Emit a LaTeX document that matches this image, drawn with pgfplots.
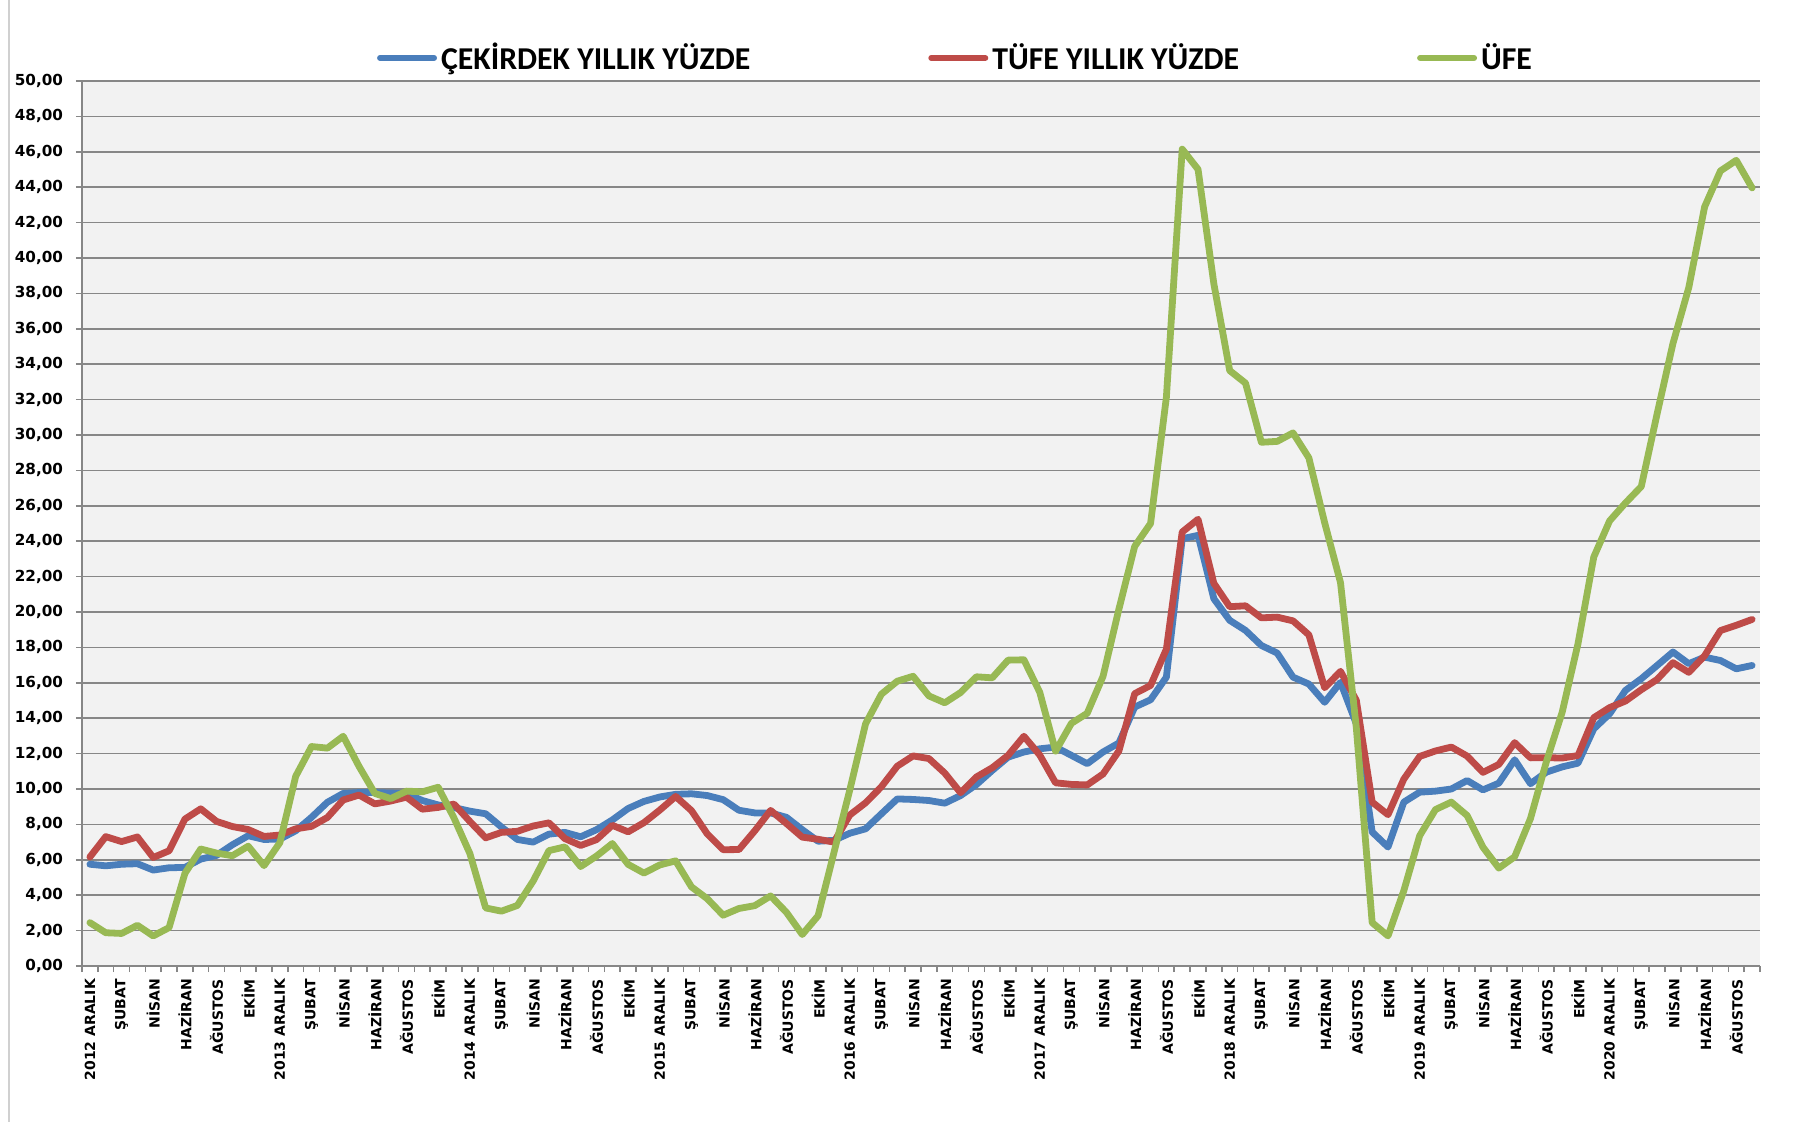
\documentclass[border=0pt]{standalone}
\usepackage{fontspec}
\usepackage{pgfplots}
\usepackage{pgfplotstable}
\pgfplotsset{compat=1.18}
\newfontfamily\tickfont{DejaVu Sans}
\newfontfamily\legfont{Carlito}
\definecolor{cblue}{HTML}{4A7EBB}
\definecolor{cred}{HTML}{BE4B48}
\definecolor{cgreen}{HTML}{98B954}
\definecolor{plotbg}{HTML}{F2F2F2}
\definecolor{gridc}{HTML}{878787}
\definecolor{framec}{HTML}{D0D0D0}

\pgfplotstableread{
i core cpi ppi
0 5.75 6.16 2.45
1 5.66 7.31 1.88
2 5.75 7.03 1.84
3 5.78 7.29 2.30
4 5.42 6.13 1.70
5 5.55 6.51 2.17
6 5.57 8.30 5.23
7 6.04 8.88 6.61
8 6.25 8.17 6.38
9 6.85 7.88 6.23
10 7.36 7.71 6.77
11 7.15 7.32 5.67
12 7.17 7.40 6.97
13 7.64 7.75 10.72
14 8.40 7.89 12.40
15 9.25 8.39 12.31
16 9.75 9.38 12.98
17 9.80 9.66 11.28
18 9.80 9.16 9.75
19 9.77 9.32 9.46
20 9.75 9.54 9.88
21 9.35 8.86 9.84
22 9.10 8.96 10.10
23 8.95 9.15 8.36
24 8.75 8.17 6.36
25 8.60 7.24 3.28
26 7.85 7.55 3.10
27 7.15 7.61 3.42
28 7.00 7.91 4.80
29 7.45 8.09 6.52
30 7.55 7.20 6.73
31 7.30 6.81 5.62
32 7.70 7.14 6.21
33 8.25 7.95 6.92
34 8.90 7.58 5.74
35 9.30 8.10 5.25
36 9.55 8.81 5.71
37 9.70 9.58 5.94
38 9.73 8.78 4.47
39 9.63 7.46 3.80
40 9.40 6.57 2.87
41 8.80 6.58 3.25
42 8.65 7.64 3.41
43 8.65 8.79 3.96
44 8.40 8.05 3.03
45 7.70 7.28 1.78
46 7.05 7.16 2.84
47 7.10 7.00 6.41
48 7.50 8.53 9.94
49 7.75 9.22 13.69
50 8.60 10.13 15.36
51 9.44 11.29 16.09
52 9.41 11.87 16.37
53 9.35 11.72 15.26
54 9.20 10.90 14.87
55 9.63 9.79 15.45
56 10.25 10.68 16.34
57 11.05 11.20 16.28
58 11.80 11.90 17.28
59 12.09 12.98 17.30
60 12.27 11.92 15.47
61 12.37 10.35 12.14
62 11.90 10.26 13.71
63 11.43 10.23 14.28
64 12.09 10.85 16.37
65 12.60 12.15 20.16
66 14.63 15.39 23.71
67 15.04 15.85 25.00
68 16.32 17.90 32.13
69 24.14 24.52 46.15
70 24.33 25.24 45.01
71 20.75 21.62 38.54
72 19.53 20.30 33.64
73 18.96 20.35 32.93
74 18.11 19.67 29.59
75 17.68 19.71 29.64
76 16.32 19.50 30.12
77 15.93 18.71 28.71
78 14.90 15.72 25.04
79 16.03 16.65 21.66
80 13.68 15.01 13.45
81 7.57 9.26 2.45
82 6.72 8.55 1.70
83 9.26 10.56 4.26
84 9.82 11.84 7.36
85 9.88 12.15 8.84
86 10.00 12.37 9.26
87 10.48 11.86 8.50
88 9.95 10.94 6.71
89 10.33 11.39 5.53
90 11.65 12.62 6.17
91 10.30 11.76 8.33
92 10.95 11.77 11.53
93 11.25 11.75 14.33
94 11.46 11.89 18.20
95 13.40 14.03 23.11
96 14.25 14.60 25.15
97 15.57 14.97 26.16
98 16.23 15.61 27.09
99 16.98 16.19 31.20
100 17.74 17.14 35.17
101 17.08 16.59 38.33
102 17.45 17.53 42.89
103 17.26 18.95 44.92
104 16.79 19.25 45.52
105 16.98 19.58 43.96
}\data

\begin{document}
\begin{tikzpicture}
\useasboundingbox (-41pt,-77.5pt) rectangle (863pt,483pt);
\draw[framec, line width=1pt] (-36.5pt,-78pt) -- (-36.5pt,484pt);
\begin{axis}[
  at={(0pt,0pt)}, anchor=south west,
  scale only axis, width=839pt, height=442.5pt,
  xmin=-0.5, xmax=105.5, ymin=0, ymax=50,
  axis background/.style={fill=plotbg},
  axis x line*=bottom, axis y line*=left,
  axis line style={gridc, line width=0.8pt},
  ymajorgrids, grid style={gridc, line width=0.8pt},
  tick align=outside, major tick length=3pt,
  tick style={gridc, line width=0.8pt},
  ytick={0,2,...,50},
  yticklabel style={font=\tickfont\bfseries\fontsize{7.6}{9}\selectfont, xshift=-3pt,
    /pgf/number format/fixed, /pgf/number format/fixed zerofill,
    /pgf/number format/precision=2, /pgf/number format/use comma,
    /pgf/number format/assume math mode=true},
  xtick={-0.5,0.5,...,105.5}, xticklabels={},
  extra x ticks={0,2,...,104},
  extra x tick style={major tick length=0pt},
  extra x tick labels={2012 ARALIK,ŞUBAT,NİSAN,HAZİRAN,AĞUSTOS,EKİM,
    2013 ARALIK,ŞUBAT,NİSAN,HAZİRAN,AĞUSTOS,EKİM,
    2014 ARALIK,ŞUBAT,NİSAN,HAZİRAN,AĞUSTOS,EKİM,
    2015 ARALIK,ŞUBAT,NİSAN,HAZİRAN,AĞUSTOS,EKİM,
    2016 ARALIK,ŞUBAT,NİSAN,HAZİRAN,AĞUSTOS,EKİM,
    2017 ARALIK,ŞUBAT,NİSAN,HAZİRAN,AĞUSTOS,EKİM,
    2018 ARALIK,ŞUBAT,NİSAN,HAZİRAN,AĞUSTOS,EKİM,
    2019 ARALIK,ŞUBAT,NİSAN,HAZİRAN,AĞUSTOS,EKİM,
    2020 ARALIK,ŞUBAT,NİSAN,HAZİRAN,AĞUSTOS},
  xticklabel style={font=\tickfont\bfseries\fontsize{7}{8}\selectfont, rotate=90, anchor=east, xshift=-3pt},
  legend columns=3,
  legend style={at={(axis description cs:0.1756,1.026)}, anchor=west,
    draw=none, fill=none, inner sep=0pt,
    font=\legfont\bfseries\fontsize{15.9}{18}\selectfont,
    /tikz/every even column/.append style={column sep=87pt}},
  legend image code/.code={\draw[#1, line width=3pt, line cap=round] (0pt,0pt) -- (27pt,0pt);},
  every axis plot/.append style={line width=3.4pt, line join=round, line cap=round},
]
\addplot[cblue, no markers] table[x=i, y=core] {\data};
\addlegendentry{ÇEKİRDEK YILLIK YÜZDE}
\addplot[cred, no markers] table[x=i, y=cpi] {\data};
\addlegendentry{TÜFE YILLIK YÜZDE}
\addplot[cgreen, no markers] table[x=i, y=ppi] {\data};
\addlegendentry{ÜFE}
\end{axis}
\end{tikzpicture}
\end{document}
